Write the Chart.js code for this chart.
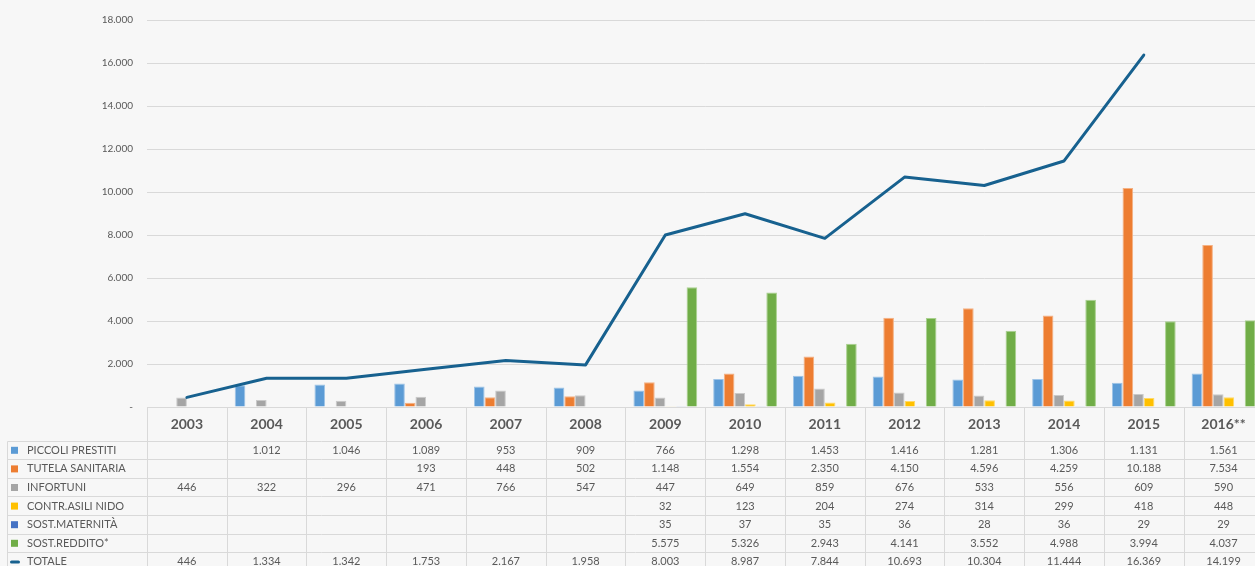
<!DOCTYPE html>
<html>
<head>
<meta charset="utf-8">
<script src="https://cdn.jsdelivr.net/npm/chart.js@4/dist/chart.umd.min.js"></script>
<style>
html,body{margin:0;padding:0;background:#f7f7f7;overflow:hidden;width:1255px;height:566px;}
#wrap{position:absolute;left:0;top:0;width:1270px;height:566px;}
</style>
</head>
<body>
<div id="wrap"><canvas id="c" width="1270" height="566"></canvas></div>
<script>
const years = ['2003','2004','2005','2006','2007','2008','2009','2010','2011','2012','2013','2014','2015','2016**'];
const piccoliPrestiti = [null,1012,1046,1089,953,909,766,1298,1453,1416,1281,1306,1131,1561];
const tutelaSanitaria = [null,null,null,193,448,502,1148,1554,2350,4150,4596,4259,10188,7534];
const infortuni = [446,322,296,471,766,547,447,649,859,676,533,556,609,590];
const contrAsiliNido = [null,null,null,null,null,null,32,123,204,274,314,299,418,448];
const sostMaternita = [null,null,null,null,null,null,35,37,35,36,28,36,29,29];
const sostReddito = [null,null,null,null,null,null,5575,5326,2943,4141,3552,4988,3994,4037];
const totale = [446,1334,1342,1753,2167,1958,8003,8987,7844,10693,10304,11444,16369,14199];
const totaleLinePoints = 13; // line is drawn through 2015 only in the reference
const yTicks = [0,2000,4000,6000,8000,10000,12000,14000,16000,18000];

const TEXT = '#595959';
const GRID = '#d9d9d9';
const FONT = 'Lato, "Open Sans", sans-serif';

function fmt(n){
  if(n===null||n===undefined) return '';
  const s = String(Math.round(n));
  return s.replace(/\B(?=(\d{3})+(?!\d))/g,'.');
}

const series = [
  {label:'PICCOLI PRESTITI', data:piccoliPrestiti, color:'#5B9BD5', border:'#9DC3E6'},
  {label:'TUTELA SANITARIA', data:tutelaSanitaria, color:'#ED7D31', border:'#F4B183'},
  {label:'INFORTUNI', data:infortuni, color:'#A5A5A5', border:'#C9C9C9'},
  {label:'CONTR.ASILI NIDO', data:contrAsiliNido, color:'#FFC000', border:'#FFD966'},
  {label:'SOST.MATERNITÀ', data:sostMaternita, color:'#4472C4', border:'#8FAADC'},
  {label:'SOST.REDDITO*', data:sostReddito, color:'#70AD47', border:'#A9D18E'}
];
const LINE_COLOR = '#17618F';

const datasets = series.map(s => ({
  type:'bar', label:s.label, data:s.data,
  backgroundColor:s.color, borderColor:s.border, borderWidth:1,
  categoryPercentage:0.8, barPercentage:1.0, order:1
}));
datasets.push({
  type:'line', label:'TOTALE', data:totale.slice(0,totaleLinePoints),
  borderColor:LINE_COLOR, borderWidth:3, pointRadius:0, tension:0,
  borderJoinStyle:'round', borderCapStyle:'round', order:0, fill:false
});

const tablePlugin = {
  id:'dataTable',
  afterDraw(chart){
    const ctx = chart.ctx;
    const ca = chart.chartArea;
    const xs = chart.scales.x;
    const n = years.length;
    const cw = (ca.right - ca.left)/n;
    const top = ca.bottom;
    const headerBottom = 440.5;
    const rowH = 18.6;
    const legendLeft = 7.5;
    const bottom = 566;
    ctx.save();
    ctx.strokeStyle = GRID;
    ctx.lineWidth = 1;
    ctx.beginPath();
    ctx.moveTo(ca.left, Math.round(top)+0.5);
    ctx.lineTo(ca.right, Math.round(top)+0.5);
    for(let r=0;r<=7;r++){
      const y = Math.round(headerBottom + r*rowH)+0.5;
      ctx.moveTo(legendLeft, y);
      ctx.lineTo(ca.right, y);
    }
    for(let i=0;i<=n;i++){
      const x = Math.round(ca.left + i*cw)+0.5;
      ctx.moveTo(x, top);
      ctx.lineTo(x, bottom);
    }
    ctx.moveTo(legendLeft, Math.round(headerBottom)+0.5);
    ctx.lineTo(legendLeft, bottom);
    ctx.stroke();

    ctx.fillStyle = TEXT;
    ctx.textAlign = 'center';
    ctx.textBaseline = 'middle';
    ctx.font = 'bold 14px ' + FONT;
    years.forEach((y,i)=>{
      const x = xs.getPixelForValue(i);
      ctx.fillText(y, x, (top+headerBottom)/2 + 1);
    });

    const rows = series.map(s=>({label:s.label, data:s.data, color:s.color, kind:'box'}));
    rows.push({label:'TOTALE', data:totale, color:LINE_COLOR, kind:'line'});
    rows.forEach((row,r)=>{
      const cy = headerBottom + r*rowH + rowH/2 + 0.5;
      if(row.kind==='box'){
        ctx.fillStyle = row.color;
        ctx.fillRect(11, cy-3.5, 7, 7);
      } else {
        ctx.strokeStyle = row.color;
        ctx.lineWidth = 3;
        ctx.lineCap = 'round';
        ctx.beginPath();
        ctx.moveTo(11.5, cy);
        ctx.lineTo(18.5, cy);
        ctx.stroke();
      }
      ctx.fillStyle = TEXT;
      ctx.font = '11px ' + FONT;
      ctx.textAlign = 'left';
      ctx.fillText(row.label, 27, cy);
      ctx.textAlign = 'center';
      row.data.forEach((v,i)=>{
        if(v===null) return;
        ctx.fillText(fmt(v), xs.getPixelForValue(i), cy);
      });
    });
    ctx.restore();
  }
};

new Chart(document.getElementById('c'), {
  data:{labels:years, datasets},
  options:{
    responsive:false,
    animation:false,
    layout:{padding:{left:0,right:6.6,top:14,bottom:159}},
    plugins:{legend:{display:false}, tooltip:{enabled:false}},
    scales:{
      x:{display:false, offset:true},
      y:{
        min:0, max:18000,
        afterFit(scale){ scale.width = 147; },
        afterBuildTicks(scale){ scale.ticks = yTicks.map(v=>({value:v})); },
        grid:{color:GRID, drawTicks:false, lineWidth:1},
        border:{display:false},
        ticks:{
          padding:14, color:TEXT, font:{family:FONT, size:10},
          callback:(v)=> v===0 ? '-' : fmt(v)
        }
      }
    }
  },
  plugins:[tablePlugin]
});
</script>
</body>
</html>
